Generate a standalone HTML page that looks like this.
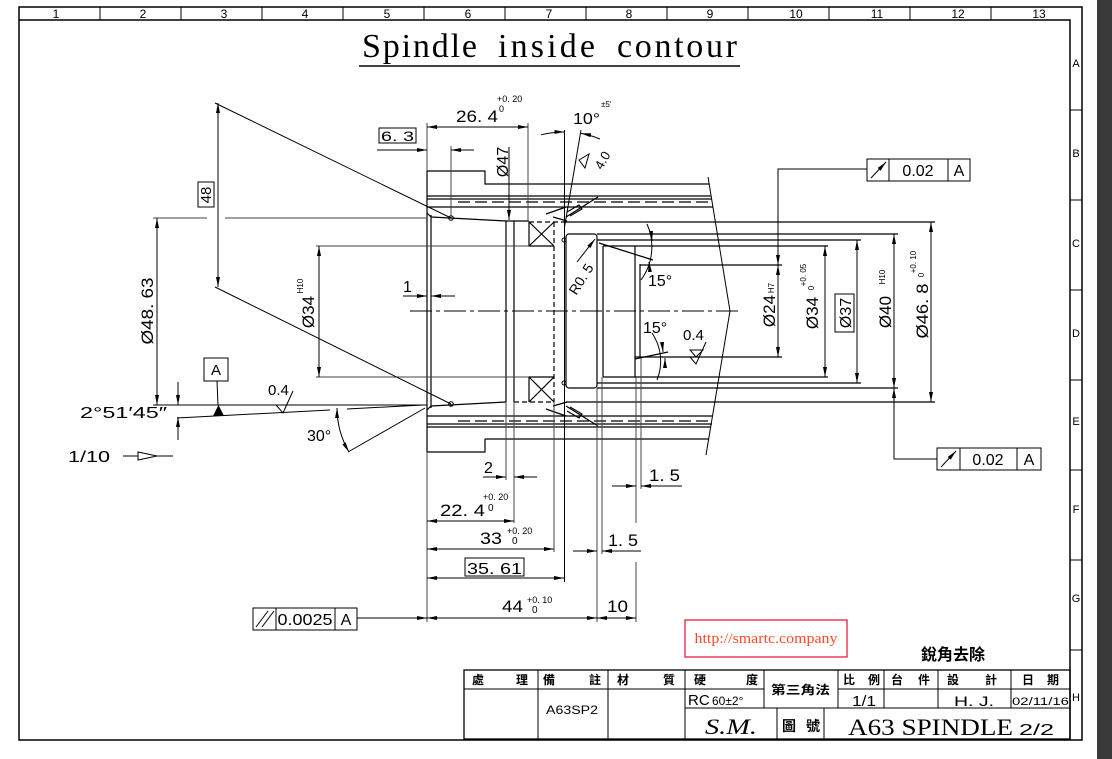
<!DOCTYPE html>
<html><head><meta charset="utf-8"><style>
html,body{margin:0;padding:0;background:#fff;}
svg{display:block;}
text{font-family:"Liberation Sans","Noto Sans CJK TC",sans-serif;fill:#000;}
.cjk{font-family:"Liberation Sans","Noto Sans CJK TC",sans-serif;font-weight:bold;}
text.serif{font-family:"Liberation Serif","Noto Serif CJK SC",serif;}
</style></head><body>
<svg width="1112" height="759" viewBox="0 0 1112 759" xmlns="http://www.w3.org/2000/svg">
<defs>
<marker id="a" viewBox="0 0 10 4" refX="10" refY="2" markerWidth="10" markerHeight="4" markerUnits="userSpaceOnUse" orient="auto-start-reverse"><path d="M0,0L10,2L0,4z" fill="#000"/></marker>
</defs>
<rect width="1112" height="759" fill="#fff"/>
<rect x="1097" y="0" width="15" height="759" fill="#3a3a3a"/>

<!-- frame -->
<g stroke="#000" stroke-width="1.5" fill="none">
<rect x="19" y="7" width="1063" height="733"/>
<path d="M19,20H1070V740"/>
<path d="M100,7V20M181,7V20M262,7V20M343,7V20M424,7V20M505,7V20M586,7V20M667,7V20M748,7V20M829,7V20M910,7V20M991,7V20" stroke-width="1"/>
<path d="M1070,110H1082M1070,200H1082M1070,290H1082M1070,380H1082M1070,470H1082M1070,560H1082M1070,650H1082" stroke-width="1"/>
</g>
<g font-size="12" text-anchor="middle">
<text x="56" y="18">1</text><text x="143" y="18">2</text><text x="224" y="18">3</text><text x="305" y="18">4</text><text x="387" y="18">5</text><text x="468" y="18">6</text><text x="549" y="18">7</text><text x="629" y="18">8</text><text x="710" y="18">9</text><text x="796" y="18">10</text><text x="877" y="18">11</text><text x="958" y="18">12</text><text x="1039" y="18">13</text>
</g>
<g font-size="11" text-anchor="middle">
<text x="1076" y="67">A</text><text x="1076" y="157">B</text><text x="1076" y="247">C</text><text x="1076" y="337">D</text><text x="1076" y="425">E</text><text x="1076" y="513">F</text><text x="1076" y="602">G</text><text x="1076" y="701">H</text>
</g>

<!-- title -->
<text class="serif" x="362" y="57" font-size="34" textLength="115" lengthAdjust="spacing">Spindle</text>
<text class="serif" x="498" y="57" font-size="34" textLength="97" lengthAdjust="spacing">inside</text>
<text class="serif" x="617" y="57" font-size="34" textLength="120" lengthAdjust="spacing">contour</text>
<line x1="359" y1="66" x2="740" y2="66" stroke="#000" stroke-width="1.5"/>

<!-- part geometry -->
<g stroke="#000" stroke-width="1.2" fill="none">
<path d="M427,171V452"/>
<path d="M427,171H485V184H709"/>
<path d="M485,439V452H427"/>
<path d="M485,439H709"/>
<path d="M427,196H711M427,199H712M427,207H713M427,416H713M427,424H712M427,427H711"/>
<path d="M458,202H712M458,421H712" stroke-dasharray="12 5"/>
<path d="M431,215V408M427,213L431,217M427,410L431,406"/>
<path d="M431,217L506,221M431,406L506,402"/>
<path d="M506,221V402M514,221V402M506,221H529"/>
<path d="M529,222V246H554M529,222L554,246M554,222L529,246"/>
<path d="M529,402V377H554M529,377L554,402M554,377L529,402"/>
<path d="M529,222H566M554,222V402M514,402H554" stroke-dasharray="5 3"/>
<path d="M564.5,130V582" stroke-width="1"/>
<rect x="566" y="234" width="31" height="154" rx="3"/>
<path d="M566,222H935M566,402H935"/>
<path d="M597,234H898M597,240H861M603,246H828M603,377H828M597,383H861M597,388H898"/>
<path d="M603,246V377M635,246V377"/>
<path d="M640,264V358M640,265H782M635,357H782"/>
<path d="M599,243L653,260M635,359L668,352"/>
<path d="M708,177L730,311L706,455" stroke-width="1"/>
<path d="M546,214L566,207M553,217L567,221M567,212L579,205L582,209L570,216M566,217L598,197"/>
<path d="M546,409L566,416M553,406L567,402M567,411L579,418L582,414L570,407M566,406L598,426"/>
</g>
<g fill="none" stroke="#000" stroke-width="1">
<circle cx="451" cy="218" r="2.3"/><circle cx="451" cy="404" r="2.3"/>
<circle cx="564" cy="240" r="2"/><circle cx="564" cy="383" r="2"/>
</g>
<path d="M410,311H742" stroke="#000" stroke-width="1" stroke-dasharray="22 4 4 4" fill="none"/>

<!-- extension lines -->
<g stroke="#444" stroke-width="1" fill="none">
<path d="M427,123V171M427,452V622M451,146V218M528,123V222"/>
<path d="M506,402V480M514,402V523M554,402V552M597,388V622M602,377V554M636,377V523M636,562V622M641,358V489"/>
<path d="M153,218H207M225,218H427M316,246H529M316,377H529"/>
</g>
<g stroke="#000" stroke-width="1" fill="none">
<path d="M153,405H427"/>
<path d="M177,418L330,410M347,409L423,405"/>
<path d="M215,103L451,218M215,287L451,404"/>
<path d="M348,452L425,408"/>
<path d="M564.5,227L581,130"/>
</g>

<!-- dimension lines -->
<g stroke="#000" stroke-width="1" fill="none">
<line x1="427" y1="127" x2="528" y2="127" marker-start="url(#a)" marker-end="url(#a)"/>
<line x1="377" y1="150" x2="427" y2="150" marker-end="url(#a)"/>
<line x1="474" y1="150" x2="451" y2="150" marker-end="url(#a)"/>
<line x1="509" y1="147" x2="509" y2="220" marker-end="url(#a)"/>
<path d="M541,134.8A95,95 0 0 1 564.5,132" marker-end="url(#a)"/>
<path d="M600,139A95,95 0 0 0 581,133.4" marker-end="url(#a)"/>
<line x1="403" y1="296" x2="427" y2="296" marker-end="url(#a)"/>
<line x1="455" y1="296" x2="431" y2="296" marker-end="url(#a)"/>
<line x1="218" y1="103" x2="218" y2="287" marker-start="url(#a)" marker-end="url(#a)"/>
<line x1="157" y1="218" x2="157" y2="405" marker-start="url(#a)" marker-end="url(#a)"/>
<line x1="319" y1="246" x2="319" y2="377" marker-start="url(#a)" marker-end="url(#a)"/>
<line x1="178" y1="382" x2="178" y2="405" marker-end="url(#a)"/>
<line x1="178" y1="440" x2="178" y2="417" marker-end="url(#a)"/>
<path d="M337,408A88,88 0 0 0 349,452" marker-start="url(#a)" marker-end="url(#a)"/>
<line x1="123" y1="456" x2="173" y2="456"/>
<path d="M647,224A56,56 0 0 1 641,280"/>
<line x1="651" y1="231" x2="652" y2="241" marker-end="url(#a)"/>
<line x1="650" y1="272" x2="649" y2="262" marker-end="url(#a)"/>
<path d="M652,333A50,50 0 0 1 657,380"/>
<line x1="662" y1="342" x2="663" y2="352" marker-end="url(#a)"/>
<line x1="665" y1="368" x2="665" y2="358" marker-end="url(#a)"/>
<line x1="577" y1="262" x2="595" y2="239" marker-end="url(#a)"/>
<!-- right dims -->
<line x1="778" y1="265" x2="778" y2="357" marker-start="url(#a)" marker-end="url(#a)"/>
<path d="M867,169H778V265" marker-end="url(#a)"/>
<line x1="825" y1="246" x2="825" y2="377" marker-start="url(#a)" marker-end="url(#a)"/>
<line x1="857" y1="240" x2="857" y2="383" marker-start="url(#a)" marker-end="url(#a)"/>
<line x1="894" y1="234" x2="894" y2="388" marker-start="url(#a)" marker-end="url(#a)"/>
<path d="M937,459H894V388" marker-end="url(#a)"/>
<line x1="931" y1="222" x2="931" y2="402" marker-start="url(#a)" marker-end="url(#a)"/>
<!-- bottom dims -->
<line x1="483" y1="477" x2="506" y2="477" marker-end="url(#a)"/>
<line x1="537" y1="477" x2="514" y2="477" marker-end="url(#a)"/>
<line x1="427" y1="521" x2="514" y2="521" marker-start="url(#a)" marker-end="url(#a)"/>
<line x1="427" y1="549" x2="554" y2="549" marker-start="url(#a)" marker-end="url(#a)"/>
<line x1="427" y1="578" x2="564" y2="578" marker-start="url(#a)" marker-end="url(#a)"/>
<line x1="427" y1="618" x2="597" y2="618" marker-start="url(#a)" marker-end="url(#a)"/>
<line x1="597" y1="618" x2="636" y2="618" marker-start="url(#a)" marker-end="url(#a)"/>
<line x1="357" y1="618" x2="427" y2="618" marker-end="url(#a)"/>
<line x1="573" y1="551" x2="597" y2="551" marker-end="url(#a)"/>
<line x1="641" y1="551" x2="602" y2="551" marker-end="url(#a)"/>
<line x1="612" y1="486" x2="636" y2="486" marker-end="url(#a)"/>
<line x1="682" y1="486" x2="641" y2="486" marker-end="url(#a)"/>
</g>
<!-- symbols -->
<polygon points="138,452 157,456 138,460" fill="#fff" stroke="#000" stroke-width="1"/>
<polygon points="213,416 224,416 218.5,405" fill="#000"/>
<line x1="217" y1="381" x2="218" y2="405" stroke="#000" stroke-width="1"/>
<rect x="204" y="358" width="24" height="23" fill="#fff" stroke="#000" stroke-width="1"/>
<text x="216" y="375" font-size="15" text-anchor="middle">A</text>
<polyline points="276,405 283,413 293,391" fill="none" stroke="#000" stroke-width="1"/>
<polyline points="690,357 696,364 706,342" fill="none" stroke="#000" stroke-width="1"/>
<path d="M690,350H703L696,357Z" fill="none" stroke="#000" stroke-width="1"/>
<polygon points="579,160 589,154 585,168" fill="none" stroke="#000" stroke-width="1"/>

<!-- boxed texts -->
<g fill="none" stroke="#000" stroke-width="1">
<rect x="379" y="128" width="37" height="15"/>
<rect x="198" y="182" width="16" height="25"/>
<rect x="835" y="294" width="19" height="38"/>
<rect x="465" y="558" width="59" height="18"/>
<rect x="867" y="159" width="103" height="22"/><path d="M889,159V181M948,159V181"/>
<rect x="937" y="448" width="104" height="22"/><path d="M960,448V470M1017,448V470"/>
<rect x="253" y="608" width="104" height="22"/><path d="M276,608V630M335,608V630"/>
<path d="M256,627L268,611M262,627L274,611"/>
</g>
<g stroke="#000" stroke-width="1" fill="none">
<line x1="871" y1="178" x2="886" y2="162" marker-end="url(#a)"/>
<line x1="941" y1="467" x2="956" y2="451" marker-end="url(#a)"/>
</g>

<!-- texts -->
<g font-size="17">
<text x="456" y="122" textLength="42" lengthAdjust="spacingAndGlyphs">26. 4</text>
<text x="497" y="102" font-size="9">+0. 20</text>
<text x="499" y="112" font-size="9">0</text>
<text x="573" y="124" font-size="16" textLength="27" lengthAdjust="spacingAndGlyphs">10°</text>
<text x="601" y="107" font-size="8">±5′</text>
<text x="381" y="141" font-size="14" textLength="33" lengthAdjust="spacingAndGlyphs">6. 3</text>
<text transform="translate(502,162) rotate(-90)" y="6" text-anchor="middle" font-size="16">Ø47</text>
<text transform="translate(602,160) rotate(-60)" y="5" text-anchor="middle" font-size="13">4.0</text>
<text x="403" y="292" font-size="16">1</text>
<text transform="translate(206,195) rotate(-90)" y="5" text-anchor="middle" font-size="15">48</text>
<text transform="translate(147,311) rotate(-90)" y="6" text-anchor="middle" font-size="17" textLength="67" lengthAdjust="spacingAndGlyphs">Ø48. 63</text>
<text transform="translate(308,312) rotate(-90)" y="6" text-anchor="middle" font-size="17">Ø34</text>
<text transform="translate(300,286) rotate(-90)" y="3" text-anchor="middle" font-size="8">H10</text>
<text x="268" y="395" font-size="15">0.4</text>
<text x="80" y="418" font-size="16" textLength="87" lengthAdjust="spacingAndGlyphs">2°51′45″</text>
<text x="307" y="441" font-size="16">30°</text>
<text x="68" y="462" font-size="16" textLength="42" lengthAdjust="spacingAndGlyphs">1/10</text>
<text x="648" y="286" font-size="16">15°</text>
<text x="643" y="333" font-size="16">15°</text>
<text x="683" y="340" font-size="15">0.4</text>
<text transform="translate(581,279) rotate(-58)" y="5" text-anchor="middle" font-size="14">R0. 5</text>
<text transform="translate(769,311) rotate(-90)" y="6" text-anchor="middle" font-size="17">Ø24</text>
<text transform="translate(771,288) rotate(-90)" y="3" text-anchor="middle" font-size="8">H7</text>
<text transform="translate(812,313) rotate(-90)" y="6" text-anchor="middle" font-size="17">Ø34</text>
<text transform="translate(803,275) rotate(-90)" y="3" text-anchor="middle" font-size="8">+0. 05</text>
<text transform="translate(811,288) rotate(-90)" y="3" text-anchor="middle" font-size="8">0</text>
<text transform="translate(845,313) rotate(-90)" y="6" text-anchor="middle" font-size="16">Ø37</text>
<text transform="translate(885,312) rotate(-90)" y="6" text-anchor="middle" font-size="17">Ø40</text>
<text transform="translate(882,277) rotate(-90)" y="3" text-anchor="middle" font-size="8">H10</text>
<text transform="translate(922,311) rotate(-90)" y="6" text-anchor="middle" font-size="17" textLength="55" lengthAdjust="spacingAndGlyphs">Ø46. 8</text>
<text transform="translate(913,262) rotate(-90)" y="3" text-anchor="middle" font-size="8">+0. 10</text>
<text transform="translate(921,275) rotate(-90)" y="3" text-anchor="middle" font-size="8">0</text>
<text x="918" y="176" font-size="16" text-anchor="middle">0.02</text>
<text x="959" y="176" font-size="16" text-anchor="middle">A</text>
<text x="988" y="465" font-size="16" text-anchor="middle">0.02</text>
<text x="1029" y="465" font-size="16" text-anchor="middle">A</text>
<text x="305" y="625" font-size="16" text-anchor="middle" textLength="55" lengthAdjust="spacingAndGlyphs">0.0025</text>
<text x="346" y="625" font-size="16" text-anchor="middle">A</text>
<text x="484" y="473" font-size="16">2</text>
<text x="440" y="516" textLength="45" lengthAdjust="spacingAndGlyphs">22. 4</text>
<text x="483" y="500" font-size="9">+0. 20</text>
<text x="488" y="511" font-size="10">0</text>
<text x="480" y="544" textLength="22" lengthAdjust="spacingAndGlyphs">33</text>
<text x="507" y="534" font-size="9">+0. 20</text>
<text x="512" y="544" font-size="10">0</text>
<text x="467" y="574" font-size="16" textLength="55" lengthAdjust="spacingAndGlyphs">35. 61</text>
<text x="502" y="612" textLength="21" lengthAdjust="spacingAndGlyphs">44</text>
<text x="527" y="603" font-size="9">+0. 10</text>
<text x="532" y="613" font-size="10">0</text>
<text x="607" y="612" textLength="21" lengthAdjust="spacingAndGlyphs">10</text>
<text x="608" y="546" textLength="30" lengthAdjust="spacingAndGlyphs">1. 5</text>
<text x="649" y="481" textLength="31" lengthAdjust="spacingAndGlyphs">1. 5</text>
</g>

<!-- watermark box -->
<rect x="685" y="620" width="162" height="37" fill="#fff" stroke="#e8203a" stroke-width="1.3"/>
<text class="serif" x="766" y="643" font-size="15" style="fill:#ff4a2a" text-anchor="middle" textLength="143" lengthAdjust="spacingAndGlyphs">http://smartc.company</text>
<text x="921" y="660" font-size="16" font-weight="bold" textLength="64" lengthAdjust="spacingAndGlyphs">銳角去除</text>

<!-- title block -->
<g stroke="#000" stroke-width="1.3" fill="none">
<rect x="464" y="670" width="606" height="69"/>
<path d="M464,689H764M838,689H1070M685,708H1070" stroke-width="1"/>
<path d="M538,670V739M608,670V739M685,670V739M764,670V708M838,670V708M884,670V708M938,670V708M1011,670V708M777,708V739M824,708V739" stroke-width="1"/>
</g>
<g class="cjk" font-size="12">
<text x="472" y="684">處</text><text x="516" y="684">理</text>
<text x="543" y="684">備</text><text x="589" y="684">註</text>
<text x="617" y="684">材</text><text x="663" y="684">質</text>
<text x="694" y="684">硬</text><text x="746" y="684">度</text>
<text x="771" y="694" textLength="59" lengthAdjust="spacingAndGlyphs">第三角法</text>
<text x="843" y="684">比</text><text x="868" y="684">例</text>
<text x="891" y="684">台</text><text x="918" y="684">件</text>
<text x="947" y="684">設</text><text x="985" y="684">計</text>
<text x="1022" y="684">日</text><text x="1047" y="684">期</text>
<text x="782" y="731" font-size="14">圖</text><text x="806" y="731" font-size="14">號</text>
</g>
<text x="688" y="705" font-size="15">RC</text>
<text x="712" y="705" font-size="12">60±2°</text>
<text x="852" y="706" font-size="15" textLength="24" lengthAdjust="spacingAndGlyphs">1/1</text>
<text x="954" y="706" font-size="14" textLength="40" lengthAdjust="spacingAndGlyphs">H. J.</text>
<text x="1012" y="705" font-size="11" textLength="57" lengthAdjust="spacingAndGlyphs">02/11/16</text>
<text x="546" y="714" font-size="12" textLength="52" lengthAdjust="spacingAndGlyphs">A63SP2</text>
<text class="serif" x="705" y="734" font-size="22" font-style="italic" textLength="52" lengthAdjust="spacingAndGlyphs">S.M.</text>
<text class="serif" x="848" y="735" font-size="23" textLength="165" lengthAdjust="spacingAndGlyphs">A63 SPINDLE</text>
<text x="1019" y="735" font-size="16" textLength="35" lengthAdjust="spacingAndGlyphs">2/2</text>
</svg>
</body></html>
